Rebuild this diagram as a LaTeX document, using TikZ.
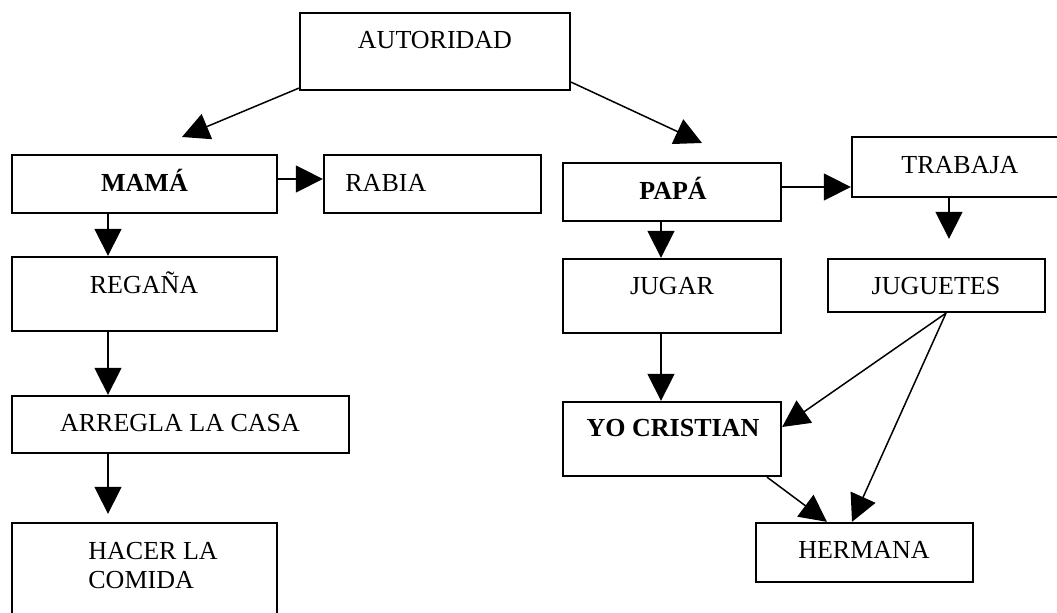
\documentclass[tikz,border=0pt]{standalone}
\usepackage{fontspec}
\setmainfont{Liberation Serif}
\usetikzlibrary{arrows.meta}

\newlength{\du}
\setlength{\du}{0.5pt}

\tikzset{
  caja/.style={draw, line width=2.3\du, inner sep=0pt},
  texto/.style={inner sep=0pt, font=\fontsize{13}{14.5}\selectfont},
  flecha/.style={line width=1.5\du, -{Triangle[length=13.5pt, width=13.5pt]}},
}

\begin{document}
\begin{tikzpicture}[x=1\du, y=-1\du]
\useasboundingbox (0,0) rectangle (1057,613);
\clip (0,0) rectangle (1057,613);
\fill[white] (0,0) rectangle (1057,613);
% cajas
\node[caja, minimum width=270\du, minimum height=77\du] (autoridad) at (435,51.5) {};
\node[caja, minimum width=265\du, minimum height=58\du] (mama) at (144.5,184) {};
\node[caja, minimum width=217\du, minimum height=58\du] (rabia) at (432.5,184) {};
\node[caja, minimum width=218\du, minimum height=58\du] (papa) at (672,192) {};
\node[caja, minimum width=216\du, minimum height=60\du] (trabaja) at (960,167) {};
\node[caja, minimum width=265\du, minimum height=74\du] (regana) at (144.5,294) {};
\node[caja, minimum width=218\du, minimum height=74\du] (jugar) at (672,296) {};
\node[caja, minimum width=217\du, minimum height=53\du] (juguetes) at (936.5,285.5) {};
\node[caja, minimum width=337\du, minimum height=57\du] (arregla) at (180.5,424.5) {};
\node[caja, minimum width=218\du, minimum height=74\du] (yo) at (672,439) {};
\node[caja, minimum width=265\du, minimum height=100\du] (hacer) at (144.5,573) {};
\node[caja, minimum width=217\du, minimum height=59\du] (hermana) at (864.5,552.5) {};
% textos
\node[texto, anchor=base] (autoridad-t) at (435,49) {AUTORIDAD};
\node[texto, anchor=base] (mama-t) at (144.5,192) {\textbf{MAMÁ}};
\node[texto, anchor=base west] (rabia-t) at (345,192) {RABIA};
\node[texto, anchor=base] (papa-t) at (673,200) {\textbf{PAPÁ}};
\node[texto, anchor=base] (trabaja-t) at (960,174) {TRABAJA};
\node[texto, anchor=base] (regana-t) at (144,294) {REGAÑA};
\node[texto, anchor=base] (jugar-t) at (672,295) {JUGAR};
\node[texto, anchor=base] (juguetes-t) at (936,295) {JUGUETES};
\node[texto, anchor=base] (arregla-t) at (180,432) {ARREGLA LA CASA};
\node[texto, anchor=base] (yo-t) at (673,437) {\textbf{YO CRISTIAN}};
\node[texto, anchor=north west, align=left] (hacer-t) at (88,542) {HACER LA\\ COMIDA};
\node[texto, anchor=base] (hermana-t) at (864,559) {HERMANA};
% flechas
\coordinate (ejemama) at (108,0);
\coordinate (ejepapa) at (661,0);
\coordinate (ejetrabaja) at (949,0);
\coordinate (filamama) at (0,179);
\coordinate (filapapa) at (0,187);
\coordinate (finmama) at (182,137);
\coordinate (finpapa) at (702,143);
\draw[flecha] ([yshift=1.5pt]autoridad.south west) -- (finmama);
\draw[flecha] ([yshift=4.5pt]autoridad.south east) -- (finpapa);
\draw[flecha] (mama.east |- filamama) -- (rabia.west |- filamama);
\draw[flecha] (mama.south -| ejemama) -- (regana.north -| ejemama);
\draw[flecha] (regana.south -| ejemama) -- (arregla.north -| ejemama);
\draw[flecha, shorten >=4pt] (arregla.south -| ejemama) -- (hacer.north -| ejemama);
\draw[flecha] (papa.east |- filapapa) -- (trabaja.west |- filapapa);
\draw[flecha] (papa.south -| ejepapa) -- (jugar.north -| ejepapa);
\draw[flecha] (jugar.south -| ejepapa) -- (yo.north -| ejepapa);
\draw[flecha, shorten >=9.5pt] (trabaja.south -| ejetrabaja) -- (juguetes.north -| ejetrabaja);
\draw[flecha] ([xshift=4.75pt]juguetes.south) -- ([yshift=6pt]yo.east);
\draw[flecha] ([xshift=4.75pt]juguetes.south) -- ([xshift=-6.25pt]hermana.north);
\draw[flecha] ([xshift=47.5pt]yo.south) -- ([xshift=-18.75pt]hermana.north);
\end{tikzpicture}
\end{document}
